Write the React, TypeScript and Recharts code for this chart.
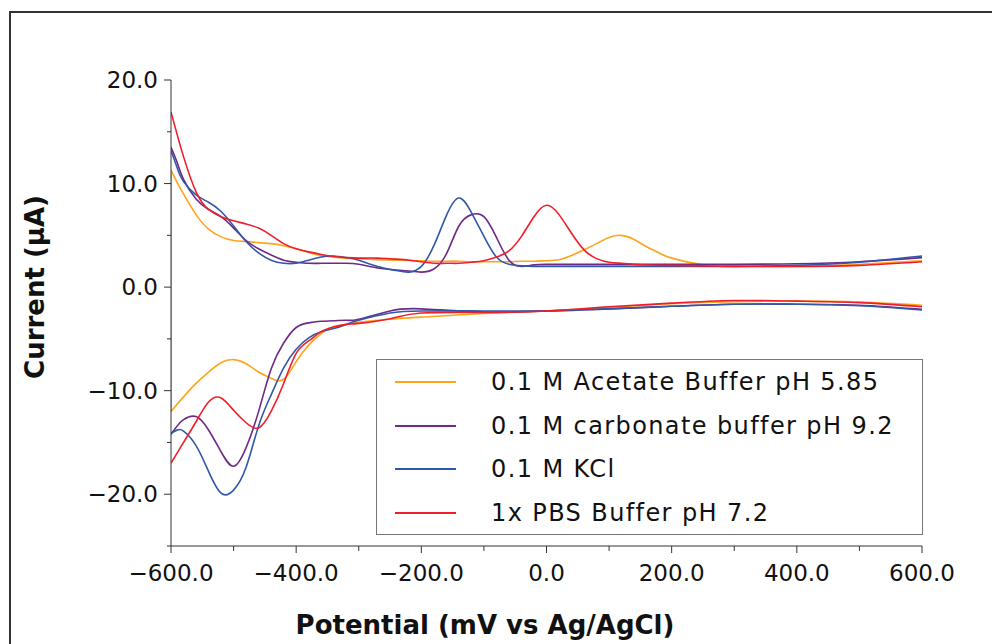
import { LineChart, Line, XAxis, YAxis } from "recharts";

const FONT = '"DejaVu Sans", sans-serif';

// forward scan (upper branch), mV
const potentialsFwd = [
  -600, -590, -580, -560, -540, -520, -500, -480, -460, -440, -420, -400, -380, -360, -340, -320,
  -300, -270, -240, -220, -200, -180, -160, -140, -120, -100, -80, -60, -40, -20, 0, 20, 40, 60,
  80, 100, 120, 140, 160, 180, 200, 250, 300, 400, 500, 600,
];
// reverse scan (lower branch), mV
const potentialsRev = [
  600, 500, 400, 300, 200, 100, 0, -100, -200, -250, -300, -320, -340, -360, -380, -400, -420,
  -440, -460, -480, -500, -520, -540, -560, -580, -590, -600,
];

// current, µA
const acetateFwd = [
  11.3, 10.1, 9.0, 7.0, 5.6, 4.85, 4.5, 4.4, 4.3, 4.2, 4.0, 3.7, 3.35, 3.05, 2.9, 2.8, 2.75, 2.65,
  2.6, 2.6, 2.55, 2.5, 2.5, 2.5, 2.45, 2.45, 2.45, 2.45, 2.5, 2.5, 2.55, 2.65, 3.05, 3.6, 4.2, 4.8,
  5.0, 4.6, 3.9, 3.3, 2.8, 2.15, 2.0, 2.0, 2.2, 2.55,
];
const acetateRev = [
  -1.75, -1.45, -1.35, -1.4, -1.6, -1.95, -2.3, -2.55, -2.9, -3.1, -3.4, -3.6, -3.8, -4.5, -5.6,
  -7.2, -8.9, -8.8, -8.2, -7.4, -7.0, -7.3, -8.2, -9.3, -10.6, -11.3, -12.0,
];

const carbonateFwd = [
  13.5, 12.0, 10.4, 8.5, 7.5, 6.8, 5.7, 4.5, 3.7, 3.1, 2.6, 2.4, 2.3, 2.3, 2.3, 2.3, 2.2, 1.85,
  1.65, 1.55, 1.45, 1.75, 3.2, 5.9, 7.0, 6.8, 4.8, 2.6, 2.0, 2.15, 2.2, 2.2, 2.2, 2.2, 2.2, 2.2,
  2.2, 2.2, 2.2, 2.2, 2.2, 2.2, 2.2, 2.25, 2.45, 2.85,
];
const carbonateRev = [
  -2.15, -1.75, -1.65, -1.65, -1.85, -2.1, -2.3, -2.4, -2.1, -2.3, -3.1, -3.2, -3.25, -3.3, -3.45,
  -3.9, -5.4, -7.9, -12.0, -15.5, -17.3, -15.9, -13.8, -12.5, -12.8, -13.4, -14.2,
];

const kclFwd = [
  13.2, 11.5, 10.2, 8.9, 8.2, 7.3, 5.9, 4.4, 3.3, 2.6, 2.3, 2.3, 2.6, 2.9, 3.0, 2.85, 2.6, 2.0,
  1.6, 1.45, 2.0, 4.0, 6.9, 8.6, 7.2, 4.9, 2.9, 2.2, 2.05, 2.0, 2.0, 2.0, 2.0, 2.0, 2.0, 2.0, 2.0,
  2.0, 2.0, 2.0, 2.0, 2.0, 2.0, 2.1, 2.4, 3.0,
];
const kclRev = [
  -2.2, -1.8, -1.65, -1.65, -1.85, -2.1, -2.3, -2.3, -2.3, -2.5, -3.2, -3.6, -4.0, -4.3, -4.9, -6.0,
  -7.8, -10.4, -13.4, -17.4, -19.6, -19.9, -17.8, -15.3, -13.9, -13.8, -14.1,
];

const pbsFwd = [
  16.9, 14.7, 12.6, 9.2, 7.5, 6.8, 6.4, 6.1, 5.7, 5.0, 4.2, 3.7, 3.4, 3.15, 2.95, 2.85, 2.8, 2.8,
  2.7, 2.6, 2.45, 2.3, 2.3, 2.3, 2.4, 2.55, 2.9, 3.5, 4.9, 6.8, 7.9, 7.0, 5.2, 3.6, 2.75, 2.4, 2.3,
  2.2, 2.15, 2.1, 2.1, 2.05, 2.0, 2.0, 2.1, 2.45,
];
const pbsRev = [
  -1.9, -1.5, -1.35, -1.3, -1.55, -1.9, -2.3, -2.45, -2.5, -3.05, -3.5, -3.6, -3.85, -4.3, -5.2,
  -6.4, -9.3, -12.0, -13.6, -13.1, -11.9, -10.7, -11.1, -13.0, -15.0, -16.0, -17.0,
];

const seriesNames = [
  "0.1 M Acetate Buffer pH 5.85",
  "0.1 M carbonate buffer pH 9.2",
  "0.1 M KCl",
  "1x PBS Buffer pH 7.2",
];
const seriesColors = ["#FFA41C", "#6E2A86", "#2F58A8", "#EF1F2A"];

const xTicks = [-600, -500, -400, -300, -200, -100, 0, 100, 200, 300, 400, 500, 600];
const yTicks = [-25, -20, -15, -10, -5, 0, 5, 10, 15, 20];

type Pt = { x: number; y: number };
const toPoints = (xs: number[], ys: number[]): Pt[] =>
  xs.map((x, i) => ({ x, y: ys[i] })).sort((a, b) => a.x - b.x);

const series = [
  { fwd: acetateFwd, rev: acetateRev, closed: true },
  { fwd: carbonateFwd, rev: carbonateRev, closed: false },
  { fwd: kclFwd, rev: kclRev, closed: false },
  { fwd: pbsFwd, rev: pbsRev, closed: false },
].map((s, i) => ({
  name: seriesNames[i],
  color: seriesColors[i],
  fwd: toPoints(potentialsFwd, s.fwd),
  rev: toPoints(potentialsRev, s.rev),
  // vertical segment joining the end of the scan back to its start
  close: s.closed
    ? [
        { x: potentialsFwd[0], y: s.fwd[0] },
        { x: potentialsRev[potentialsRev.length - 1], y: s.rev[s.rev.length - 1] },
      ]
    : null,
}));

const fmt = (v: number) => (v < 0 ? "\u2212" : "") + Math.abs(v).toFixed(1);

function YTick(props: any) {
  const { x, y, payload } = props;
  const v = payload.value as number;
  const major = v % 10 === 0;
  return (
    <g>
      <line x1={x} x2={x - (major ? 7 : 4)} y1={y} y2={y} stroke="#333" />
      {major && (
        <text x={x - 13} y={y + 8} textAnchor="end" fontSize={23} fill="#111" fontFamily={FONT}>
          {fmt(v)}
        </text>
      )}
    </g>
  );
}

function XTick(props: any) {
  const { x, y, payload } = props;
  const v = payload.value as number;
  const major = v % 200 === 0;
  return (
    <g>
      <line x1={x} x2={x} y1={y} y2={y + (major ? 7 : 5)} stroke="#333" />
      {major && (
        <text x={x} y={y + 35} textAnchor="middle" fontSize={23} fill="#111" fontFamily={FONT}>
          {fmt(v)}
        </text>
      )}
    </g>
  );
}

const lineProps = {
  dataKey: "y",
  strokeWidth: 1.6,
  dot: false,
  activeDot: false,
  legendType: "none" as const,
  isAnimationActive: false,
};

export default function App() {
  return (
    <div
      style={{
        position: "absolute",
        left: 0,
        top: 0,
        width: 992,
        height: 644,
        overflow: "hidden",
        background: "#fff",
        fontFamily: FONT,
      }}
    >
      <div
        style={{
          position: "absolute",
          left: 9,
          top: 11,
          width: 1000,
          height: 700,
          borderTop: "2px solid #333",
          borderLeft: "2px solid #333",
        }}
      />
      <div style={{ position: "absolute", left: 0, top: 0 }}>
        <LineChart width={992} height={644} margin={{ top: 80, right: 70, bottom: 0, left: 0 }}>
          <XAxis
            type="number"
            dataKey="x"
            domain={[-600, 600]}
            ticks={xTicks}
            interval={0}
            allowDataOverflow
            tickSize={0}
            tickMargin={0}
            tickLine={false}
            tick={<XTick />}
            axisLine={{ stroke: "#333" }}
            height={98}
          />
          <YAxis
            type="number"
            dataKey="y"
            domain={[-25, 20]}
            ticks={yTicks}
            interval={0}
            allowDataOverflow
            tickSize={0}
            tickMargin={0}
            tickLine={false}
            tick={<YTick />}
            axisLine={{ stroke: "#333" }}
            width={171}
          />
          {series.map((s) => [
            <Line key={s.name + "-fwd"} data={s.fwd} type="natural" stroke={s.color} {...lineProps} />,
            <Line key={s.name + "-rev"} data={s.rev} type="natural" stroke={s.color} {...lineProps} />,
            s.close ? (
              <Line key={s.name + "-close"} data={s.close} type="linear" stroke={s.color} {...lineProps} />
            ) : null,
          ])}
        </LineChart>
      </div>

      <div
        style={{
          position: "absolute",
          left: 485,
          top: 625,
          transform: "translate(-50%, -50%)",
          whiteSpace: "nowrap",
          fontSize: 26,
          fontWeight: "bold",
          color: "#111",
        }}
      >
        Potential (mV vs Ag/AgCl)
      </div>
      <div
        style={{
          position: "absolute",
          left: 35,
          top: 287,
          transform: "translate(-50%, -50%) rotate(-90deg)",
          whiteSpace: "nowrap",
          fontSize: 26,
          fontWeight: "bold",
          color: "#111",
        }}
      >
        Current (µA)
      </div>

      <div
        style={{
          position: "absolute",
          left: 376,
          top: 359,
          width: 545,
          height: 174,
          border: "1px solid #777",
          background: "#fff",
        }}
      >
        {series.map((s, i) => (
          <div
            key={s.name}
            style={{ position: "absolute", left: 0, top: 7 + i * 43.5, height: 30, width: 545 }}
          >
            <div
              style={{
                position: "absolute",
                left: 18,
                top: 14,
                width: 61,
                height: 2,
                background: s.color,
              }}
            />
            <div
              style={{
                position: "absolute",
                left: 114,
                top: 0,
                lineHeight: "30px",
                fontSize: 24,
                letterSpacing: 1.4,
                color: "#111",
                whiteSpace: "nowrap",
              }}
            >
              {s.name}
            </div>
          </div>
        ))}
      </div>
    </div>
  );
}
